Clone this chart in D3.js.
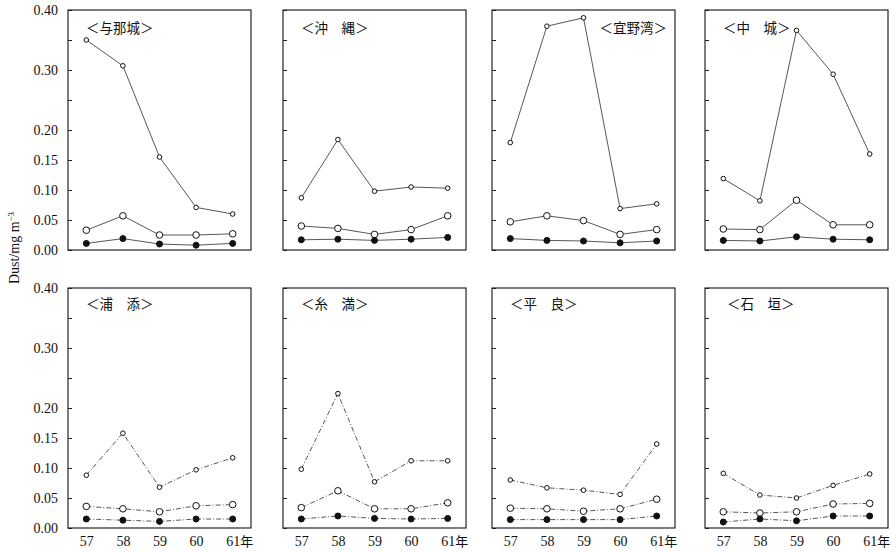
<!DOCTYPE html>
<html>
<head>
<meta charset="utf-8">
<script src="https://cdn.jsdelivr.net/npm/d3@7"></script>
<style>
  body { margin: 0; background: #fff; }
  svg { display: block; }
</style>
</head>
<body>
<svg id="chart" width="896" height="552"></svg>
<script>
// ---- data ----
const years = ["57", "58", "59", "60", "61"];
const sites = ["与那城", "沖　縄", "宜野湾", "中　城", "浦　添", "糸　満", "平　良", "石　垣"];
// upper series (small open circles)
const seriesA = [
  [0.350, 0.307, 0.155, 0.071, 0.060],
  [0.087, 0.184, 0.098, 0.105, 0.103],
  [0.179, 0.373, 0.387, 0.069, 0.077],
  [0.119, 0.082, 0.366, 0.293, 0.160],
  [0.088, 0.158, 0.068, 0.097, 0.117],
  [0.098, 0.224, 0.077, 0.112, 0.112],
  [0.080, 0.067, 0.063, 0.056, 0.140],
  [0.091, 0.055, 0.050, 0.071, 0.090]
];
// middle series (larger open circles)
const seriesB = [
  [0.033, 0.057, 0.025, 0.025, 0.027],
  [0.040, 0.036, 0.026, 0.034, 0.057],
  [0.047, 0.057, 0.049, 0.026, 0.034],
  [0.035, 0.034, 0.083, 0.042, 0.042],
  [0.036, 0.032, 0.027, 0.037, 0.039],
  [0.034, 0.062, 0.032, 0.032, 0.042],
  [0.033, 0.032, 0.028, 0.032, 0.048],
  [0.027, 0.025, 0.027, 0.040, 0.041]
];
// lower series (filled circles)
const seriesC = [
  [0.011, 0.019, 0.010, 0.008, 0.011],
  [0.017, 0.018, 0.016, 0.018, 0.021],
  [0.019, 0.016, 0.015, 0.012, 0.015],
  [0.016, 0.015, 0.022, 0.018, 0.017],
  [0.015, 0.013, 0.011, 0.015, 0.015],
  [0.015, 0.020, 0.016, 0.015, 0.016],
  [0.014, 0.014, 0.014, 0.014, 0.020],
  [0.010, 0.015, 0.012, 0.020, 0.020]
];
const yTicks = [0, 0.05, 0.10, 0.15, 0.20, 0.25, 0.30, 0.35, 0.40];
const yTickLabels = ["0.00", "0.05", "0.10", "0.15", "0.20", "", "0.30", "", "0.40"];
const yTitle = "Dust/mg m";
const yearSuffix = "年";

// ---- layout ----
const svg = d3.select("#chart");
const colLeft = [68, 283, 492, 705];
const rowTop = [10, 288];
const pw = 183, ph = 240;
const serif = "'Liberation Serif','DejaVu Serif',serif";
const cjk = "'Noto Sans CJK JP','Noto Sans CJK SC',sans-serif";

const y = d3.scaleLinear().domain([0, 0.40]).range([ph, 0]);
const x = d3.scalePoint().domain(years).range([0, pw]).padding(0.5);

sites.forEach((site, i) => {
  const row = Math.floor(i / 4), col = i % 4;
  const g = svg.append("g").attr("transform", `translate(${colLeft[col]},${rowTop[row]})`);

  // frame
  g.append("rect").attr("x", 0).attr("y", 0).attr("width", pw).attr("height", ph)
    .attr("fill", "none").attr("stroke", "#111").attr("stroke-width", 1.1);

  // y axis ticks (inward)
  const ya = d3.axisRight(y).tickValues(yTicks).tickSize(4)
    .tickFormat((d, k) => "");
  const yg = g.append("g").call(ya);
  yg.select(".domain").remove();
  yg.selectAll("line").attr("stroke", "#222");

  if (col === 0) {
    const yl = d3.axisLeft(y).tickValues(yTicks).tickSize(0).tickPadding(10)
      .tickFormat((d, k) => yTickLabels[k]);
    const ylg = g.append("g").call(yl);
    ylg.select(".domain").remove();
    ylg.selectAll("text").attr("font-family", serif).attr("font-size", 14).attr("fill", "#111");
  }

  if (row === 1) {
    const xa = d3.axisBottom(x).tickSize(0).tickPadding(8);
    const xg = g.append("g").attr("transform", `translate(0,${ph})`).call(xa);
    xg.select(".domain").remove();
    xg.selectAll("text").attr("font-family", serif).attr("font-size", 14).attr("fill", "#111");
    xg.selectAll(".tick").filter(d => d === years[years.length - 1]).select("text")
      .attr("text-anchor", "start").attr("dx", "-0.5em")
      .append("tspan").attr("font-family", cjk).attr("font-size", 13).text(yearSuffix);
  }

  // title
  const right = (i === 2);
  g.append("text")
    .attr("x", right ? pw - 8 : (col === 3 && row === 1 ? 22 : 18))
    .attr("y", row === 0 ? 18 : 16)
    .attr("dy", "0.35em")
    .attr("text-anchor", right ? "end" : "start")
    .attr("font-family", cjk).attr("font-size", 13.5).attr("fill", "#111")
    .text("＜" + site + "＞");

  const dash = row === 1 ? "5,2,1,2" : null;
  const line = d3.line().x((d, k) => x(years[k])).y(d => y(d));

  [[seriesA[i], 2.3, "#fff"], [seriesB[i], 3.3, "#fff"], [seriesC[i], 3.0, "#111"]].forEach(([vals, r, fill]) => {
    g.append("path").datum(vals).attr("d", line)
      .attr("fill", "none").attr("stroke", "#444").attr("stroke-width", 0.9)
      .attr("stroke-dasharray", dash);
    g.selectAll(null).data(vals).enter().append("circle")
      .attr("cx", (d, k) => x(years[k])).attr("cy", d => y(d)).attr("r", r)
      .attr("fill", fill).attr("stroke", "#111").attr("stroke-width", 1);
  });
});

// y title
const yt = svg.append("text")
  .attr("transform", "translate(19,248) rotate(-90)")
  .attr("text-anchor", "middle")
  .attr("font-family", serif).attr("font-size", 14).attr("fill", "#111")
  .text(yTitle);
yt.append("tspan").attr("font-size", 9).attr("dy", "-0.6em").text("−3");
</script>
</body>
</html>
